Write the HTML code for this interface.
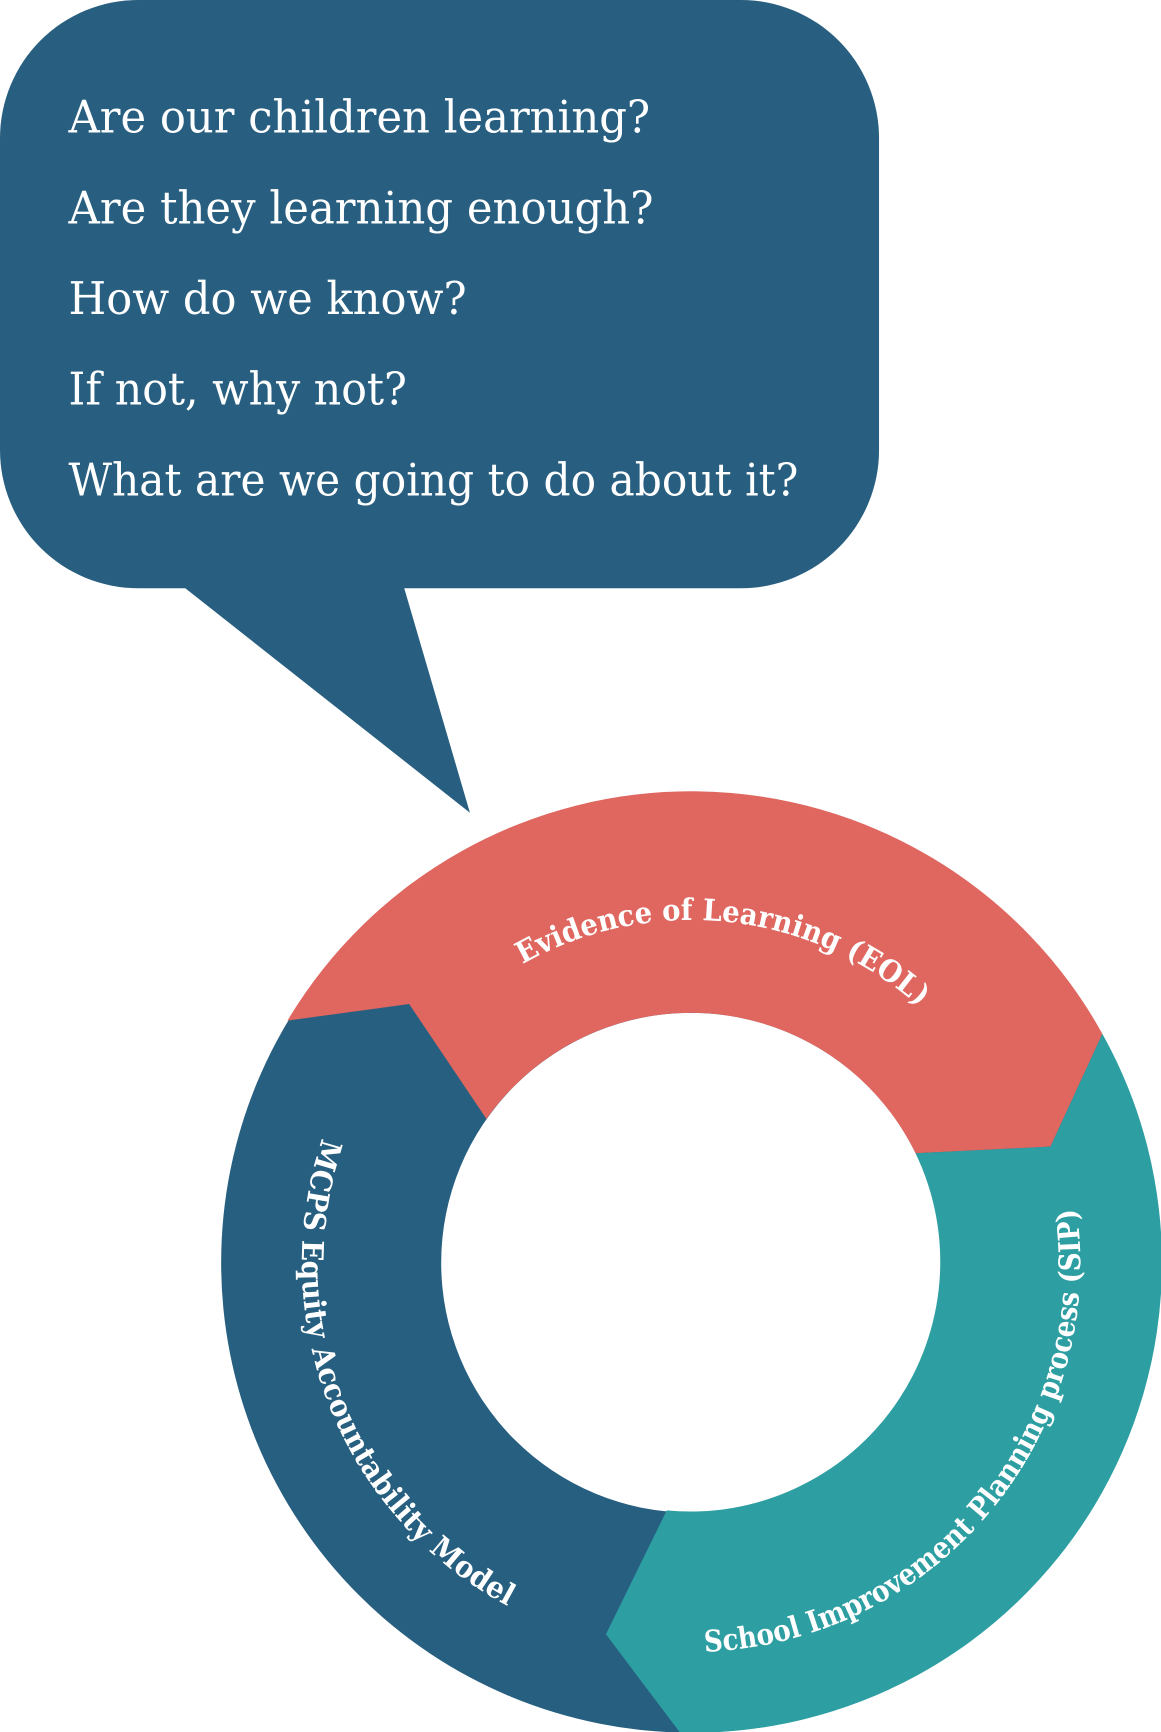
<!DOCTYPE html>
<html><head><meta charset="utf-8"><style>
html,body{margin:0;padding:0;background:#fff;}
svg{display:block;}
</style></head><body>
<svg width="1161" height="1732" viewBox="0 0 1050 1566.4" xmlns="http://www.w3.org/2000/svg">
<defs>
<path id="cw" d="M 315 1142 A 310 310 0 1 1 935 1142 A 310 310 0 1 1 315 1142"/>
<path id="ccw" d="M 625 790 A 352 352 0 1 0 625 1494 A 352 352 0 1 0 625 790"/>
</defs>
<rect x="0" y="0" width="795" height="532" rx="125" ry="125" fill="#285f80"/>
<polygon points="165,530 425,735 365,530" fill="#285f80"/>
<g font-family="'DejaVu Serif','Liberation Serif',serif" font-size="41" fill="#fff">
<text x="62" y="120" textLength="526" lengthAdjust="spacingAndGlyphs">Are our children learning?</text>
<text x="62" y="202" textLength="529" lengthAdjust="spacingAndGlyphs">Are they learning enough?</text>
<text x="62" y="284" textLength="360" lengthAdjust="spacingAndGlyphs">How do we know?</text>
<text x="62" y="366" textLength="306" lengthAdjust="spacingAndGlyphs">If not, why not?</text>
<text x="62" y="448" textLength="660" lengthAdjust="spacingAndGlyphs">What are we going to do about it?</text>
</g>
<path fill-rule="evenodd" fill="#275f80" d="M 200 1142 A 425 425 0 1 0 1050 1142 A 425 425 0 1 0 200 1142 Z M 399 1142 A 226 226 0 1 0 851 1142 A 226 226 0 1 0 399 1142 Z"/>
<path fill="#df675f" d="M 260 923 A 425 425 0 0 1 997 935 L 950 1037 L 828 1043 A 226 226 0 0 0 440 1012 L 370 908 Z"/>
<path fill="#2d9ea1" d="M 997 935 A 425 425 0 0 1 615 1567 L 548 1478 L 603 1366 A 226 226 0 0 0 828 1043 L 950 1037 Z"/>
<g font-family="'DejaVu Serif','Liberation Serif',serif" font-weight="bold" font-size="27" fill="#fff">
<text text-anchor="middle"><textPath href="#cw" startOffset="26.7%" textLength="385" lengthAdjust="spacingAndGlyphs">Evidence of Learning (EOL)</textPath></text>
<text text-anchor="middle"><textPath href="#ccw" startOffset="31%" textLength="495" lengthAdjust="spacingAndGlyphs">MCPS Equity Accountability Model</textPath></text>
<text text-anchor="middle"><textPath href="#ccw" startOffset="63.9%" textLength="590" lengthAdjust="spacingAndGlyphs">School Improvement Planning process (SIP)</textPath></text>
</g>
</svg>
</body></html>
